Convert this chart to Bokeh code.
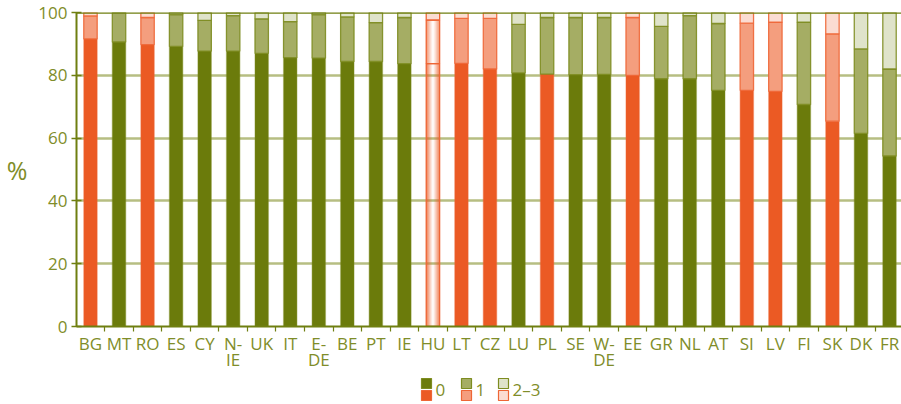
import numpy as np
from bokeh.plotting import figure
from bokeh.models import ColumnDataSource, Range1d, FixedTicker, Span
from bokeh.layouts import column
from bokeh.embed import file_html
from bokeh.resources import INLINE
from bokeh.core.properties import value

# ---------------- data ----------------
countries = ["BG", "MT", "RO", "ES", "CY", "N-\nIE", "UK", "IT", "E-\nDE", "BE", "PT", "IE", "HU", "LT",
             "CZ", "LU", "PL", "SE", "W-\nDE", "EE", "GR", "NL", "AT", "SI", "LV", "FI", "SK", "DK", "FR"]
share_0 = [91.6, 90.6, 89.8, 89.2, 87.7, 87.7, 87.0, 85.6, 85.5, 84.4, 84.4, 83.7, 83.7, 83.8,
           82.0, 80.8, 80.4, 80.2, 80.3, 80.0, 78.9, 78.9, 75.2, 75.2, 74.9, 70.7, 65.4, 61.5, 54.3]
share_1 = [7.3, 9.4, 8.6, 10.1, 9.8, 11.3, 11.0, 11.5, 13.8, 14.2, 12.4, 14.7, 13.9, 14.3,
           16.1, 15.4, 18.0, 18.2, 18.1, 18.4, 16.7, 20.1, 21.3, 21.4, 22.0, 26.2, 27.8, 26.9, 27.7]
share_2_3 = [1.1, 0.0, 1.6, 0.7, 2.5, 1.0, 2.0, 2.9, 0.7, 1.4, 3.2, 1.6, 2.4, 1.9,
             1.9, 3.8, 1.6, 1.6, 1.6, 1.6, 4.4, 1.0, 3.5, 3.4, 3.1, 3.1, 6.8, 11.6, 18.0]
orange_0 = ["BG", "RO", "HU", "LT", "CZ", "PL", "EE", "SI", "LV", "SK"]
orange_upper = ["BG", "RO", "HU", "LT", "CZ", "EE", "SI", "LV", "SK"]
gradient_country = "HU"
legend_labels = ["0", "1", "2–3"]
y_ticks = [0, 20, 40, 60, 80, 100]

# ---------------- styles ----------------
OL = ["#6b7b0b", "#a5ad64", "#dfe3ca"]
OR = ["#eb5a24", "#f49e7e", "#fbdcd2"]
OL_LINE = "#7d8c20"
OR_LINE = "#ee6636"
TXT = "#7f8d29"
AXIS = "#6f7f10"
GRID = "#b7be82"
FONT = "Open Sans"
BAR_W = 0.47

W = 901
H_MAIN, H_LEG = 377, 27
B_LEFT, B_TOP, B_BOTTOM = 76, 12, 51
X0, X1 = -0.49, 28.42

codes = [c.replace("-\n", "-") for c in countries]

p = figure(width=W, height=H_MAIN, min_border_left=B_LEFT, min_border_right=0,
           min_border_top=B_TOP, min_border_bottom=B_BOTTOM, output_backend="svg",
           toolbar_location=None, x_range=Range1d(X0, X1), y_range=Range1d(0, 100))
p.outline_line_color = None

# segments
xs, bots, tops, fills, lines, lalph = [], [], [], [], [], []
gx, gb, gt, gw, gc, ga = [], [], [], [], [], []
ox, ob, ot = [], [], []
for i, code in enumerate(codes):
    s = [share_0[i], share_1[i], share_2_3[i]]
    base = 0.0
    for k in range(3):
        b, t = base, base + s[k]
        base = t
        if s[k] <= 0:
            continue
        is_or = (code in orange_0) if k == 0 else (code in orange_upper)
        if code == gradient_country:
            ox.append(i); ob.append(b); ot.append(t)
            if k < 2:
                n = 13
                for j in range(n):
                    off = (j + 0.5) / n - 0.5
                    a = (abs(off) / 0.5) ** 1.3
                    gx.append(i + off * BAR_W); gb.append(b); gt.append(t)
                    gw.append(BAR_W / n * 1.05); gc.append(OR[0])
                    ga.append(a * (0.95 if k == 0 else 0.75))
            else:
                gx.append(i); gb.append(b); gt.append(t); gw.append(BAR_W); gc.append(OR[2]); ga.append(1.0)
            continue
        xs.append(i); bots.append(b); tops.append(t)
        fills.append(OR[k] if is_or else OL[k])
        lines.append(OR_LINE if is_or else OL_LINE)
        lalph.append(0.35 if k == 0 else 0.9)

# grid
p.xgrid.visible = False
p.ygrid.ticker = FixedTicker(ticks=[20, 40, 60, 80])
p.ygrid.grid_line_color = GRID
p.ygrid.grid_line_width = 2.5
p.ygrid.level = "underlay"

src = ColumnDataSource(dict(x=xs, bottom=bots, top=tops, fill=fills, line=lines, la=lalph))
p.vbar(x="x", bottom="bottom", top="top", width=BAR_W, source=src, fill_color="fill",
       line_color="line", line_alpha="la", line_width=1.3)

gsrc = ColumnDataSource(dict(x=gx, bottom=gb, top=gt, w=gw, c=gc, a=ga))
p.vbar(x="x", bottom="bottom", top="top", width="w", source=gsrc, fill_color="c",
       fill_alpha="a", line_color=None)
osrc = ColumnDataSource(dict(x=ox, bottom=ob, top=ot))
p.vbar(x="x", bottom="bottom", top="top", width=BAR_W, source=osrc, fill_color=None,
       line_color=OR_LINE, line_width=1.3)

p.add_layout(Span(location=100, dimension="width", line_color=AXIS, line_width=2.5))

# y axis
ya = p.yaxis[0]
ya.ticker = FixedTicker(ticks=y_ticks)
ya.axis_line_color = AXIS
ya.axis_line_width = 2
ya.major_tick_line_color = AXIS
ya.major_tick_line_width = 1.5
ya.major_tick_in = 5
ya.major_tick_out = 5
ya.minor_tick_line_color = None
ya.major_label_text_font = FONT
ya.major_label_text_font_size = "17px"
ya.major_label_text_color = TXT
ya.major_label_standoff = 4
ya.axis_label = "%"
ya.axis_label_orientation = "horizontal"
ya.axis_label_text_font = FONT
ya.axis_label_text_font_size = "25px"
ya.axis_label_text_font_style = "normal"
ya.axis_label_text_color = TXT
ya.axis_label_standoff = 8

# x axis
xa = p.xaxis[0]
xa.ticker = FixedTicker(ticks=list(range(len(countries))),
                        minor_ticks=[i - 0.5 for i in range(len(countries) + 1)])
xa.major_label_overrides = {i: c for i, c in enumerate(countries)}
xa.axis_line_color = AXIS
xa.axis_line_width = 2
xa.major_tick_line_color = None
xa.major_tick_in = 0
xa.major_tick_out = 0
xa.minor_tick_line_color = AXIS
xa.minor_tick_line_width = 1.2
xa.minor_tick_in = 0
xa.minor_tick_out = 5
xa.major_label_text_font = FONT
xa.major_label_text_font_size = "17px"
xa.major_label_text_color = TXT
xa.major_label_text_line_height = 0.7
xa.major_label_standoff = 0

# ---------------- legend strip (pixel-coordinate figure below the chart) ----------------
# its frame is aligned with the main frame (starts at B_LEFT), so x is in page pixels
leg = figure(width=W, height=H_LEG, x_range=Range1d(B_LEFT, W),
             y_range=Range1d(H_MAIN + H_LEG, H_MAIN),
             output_backend="svg", toolbar_location=None, min_border=0,
             min_border_left=B_LEFT, min_border_right=0,
             x_axis_location=None, y_axis_location=None)
leg.grid.visible = False
leg.outline_line_color = None
legend_px = [421, 461, 498]
SQ = 10
row_olive = H_MAIN + 1 + SQ / 2
row_orange = row_olive + SQ + 2
leg.rect(x=[v + SQ / 2 for v in legend_px], y=[row_olive] * 3, width=SQ, height=SQ,
         fill_color=OL, line_color=OL_LINE, line_width=1.2)
leg.rect(x=[v + SQ / 2 for v in legend_px], y=[row_orange] * 3, width=SQ, height=SQ,
         fill_color=OR, line_color=OR_LINE, line_width=1.2)
leg.text(x=[v + SQ + 4 for v in legend_px], y=[(row_olive + row_orange) / 2] * 3, text=legend_labels,
         text_font=value(FONT), text_font_size="17px", text_color=TXT,
         text_baseline="middle", text_align="left")

layout = column(p, leg, spacing=0)
open("out.html", "w").write(file_html(layout, INLINE))
